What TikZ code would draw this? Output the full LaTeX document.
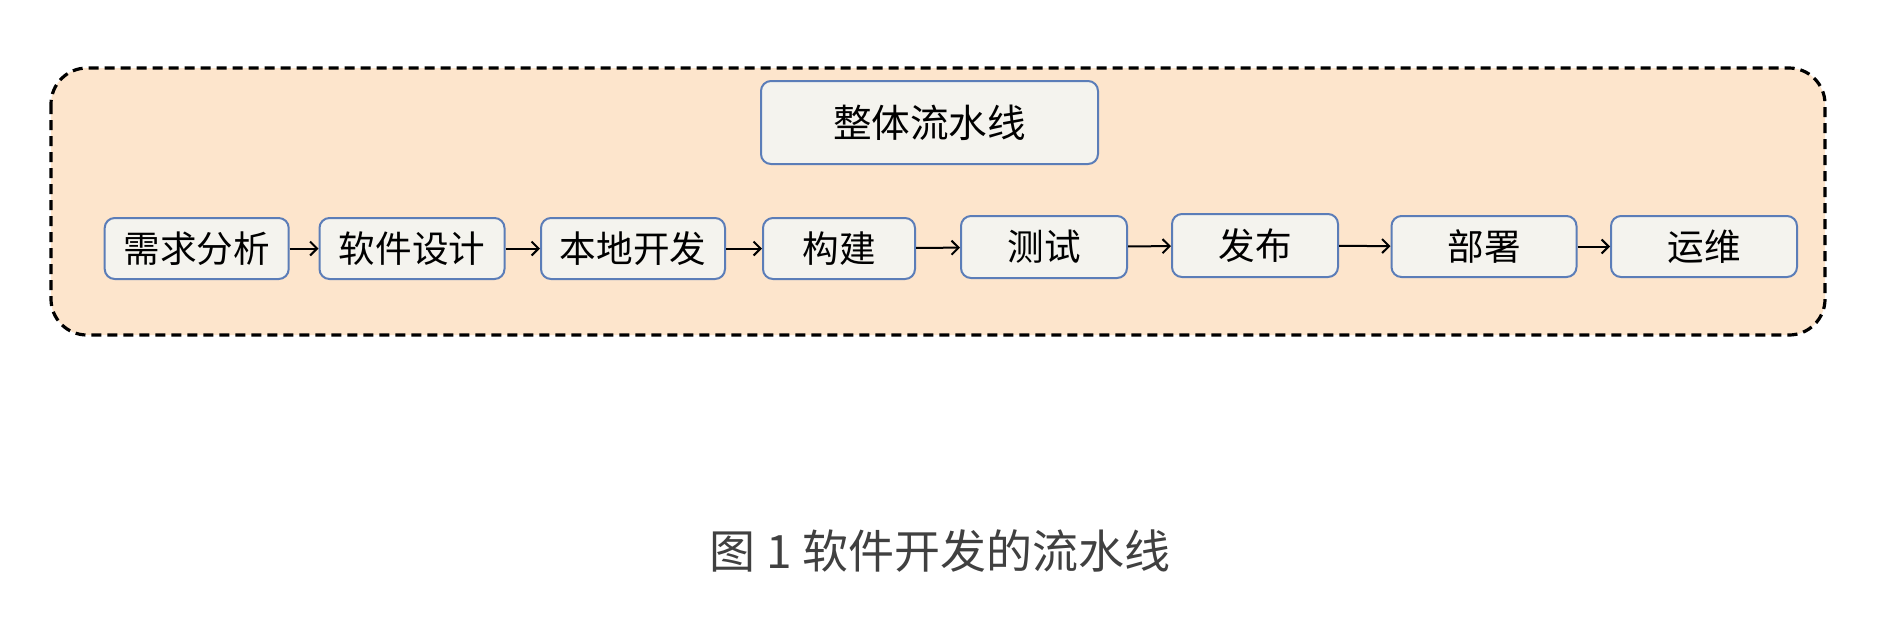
\documentclass[tikz,border=0pt]{standalone}
\usepackage{fontspec}
\newfontfamily\cjk{Noto Sans CJK SC}
\usepackage{tikz}
\usetikzlibrary{positioning,arrows.meta}

\definecolor{peach}{HTML}{FDE5CC}
\definecolor{boxfill}{HTML}{F4F3EE}
\definecolor{boxline}{HTML}{5B7DB8}
\definecolor{captiongray}{HTML}{404040}

\begin{document}
\begin{tikzpicture}[x=0.5pt,y=-0.5pt,
    >={Straight Barb[length=3.5pt,width=7pt]},
    stage/.style={draw=boxline, fill=boxfill, line width=1pt, rounded corners=5pt,
      inner sep=0pt, font=\cjk\fontsize{18.3}{22}\selectfont},
    flow/.style={->, line width=1pt}]
  \useasboundingbox (0,0) rectangle (1884,618);
  \draw [fill=peach, line width=1.6pt, dash pattern=on 5pt off 3pt, rounded corners=18pt]
    (51,68) rectangle (1825,335);
  \node [stage, minimum width=168.5pt, minimum height=41.5pt, font=\cjk\fontsize{19.3}{23}\selectfont]
    (whole) at (929.5,122.5) {整体流水线};
  \node [stage, minimum width=92pt, minimum height=30.5pt] (xqfx) at (196.7,248.5) {需求分析};
  \node [stage, minimum width=92.5pt, minimum height=30.5pt] (rjsj) at (412,248.5) {软件设计};
  \node [stage, minimum width=92pt, minimum height=30.5pt] (bdkf) at (633,248.5) {本地开发};
  \node [stage, minimum width=76pt, minimum height=30.5pt] (gj) at (839,248.5) {构建};
  \node [stage, minimum width=83pt, minimum height=31pt] (cs) at (1044,247) {测试};
  \node [stage, minimum width=83pt, minimum height=31.5pt] (fb) at (1255,245.5) {发布};
  \node [stage, minimum width=92.5pt, minimum height=30.5pt] (bs) at (1484,246.5) {部署};
  \node [stage, minimum width=93pt, minimum height=30.5pt] (yw) at (1704,246.5) {运维};
  \draw [flow] (xqfx) -- (rjsj);
  \draw [flow] (rjsj) -- (bdkf);
  \draw [flow] (bdkf) -- (gj);
  \draw [flow] (gj) -- (cs);
  \draw [flow] (cs) -- (fb);
  \draw [flow] (fb) -- (bs);
  \draw [flow] (bs) -- (yw);
  \node [text=captiongray, font=\cjk\fontsize{23}{28}\selectfont] (caption) at (940,551)
    {图 1 软件开发的流水线};
\end{tikzpicture}
\end{document}
